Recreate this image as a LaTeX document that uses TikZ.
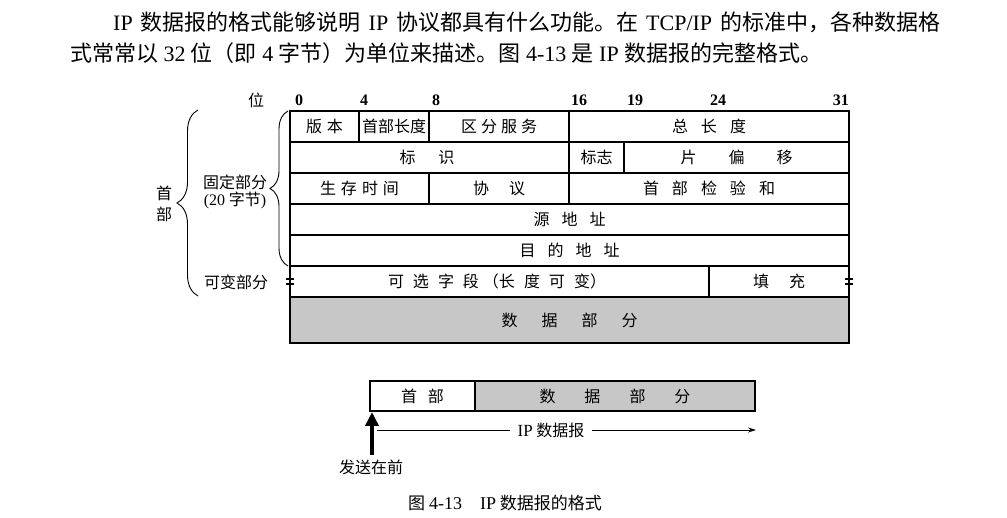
\documentclass[tikz,border=0pt]{standalone}
\usepackage{fontspec}
\setmainfont{Liberation Serif}
\newfontfamily\cjk{Noto Sans CJK SC}
\usetikzlibrary{decorations.pathreplacing,arrows.meta}
\newcommand\g[1]{\hspace{#1pt}}
\newcommand\lat[1]{{\rmfamily #1}}
\begin{document}
\begin{tikzpicture}[x=1pt,y=-1pt,
  cell/.style={font=\cjk\fontsize{16}{18}\selectfont, inner sep=0pt, anchor=center},
  bitlbl/.style={font=\bfseries\fontsize{16}{18}\selectfont, inner sep=0pt, anchor=base west},
  para/.style={font=\cjk\fontsize{22}{25}\selectfont, inner sep=0pt, anchor=west},
  tl/.style={line width=1.1pt},
  eqmark/.style={line width=1.4pt},
  bracestyle/.style={decorate, line width=0.9pt}]
\useasboundingbox (0,0) rectangle (1007,518);

% paragraph
\node[para] (p1) at (113,22) {\makebox[827pt][s]{\lat{IP} 数据报的格式能够说明 \lat{IP} 协议都具有什么功能。在 \lat{TCP/IP} 的标准中，各种数据格}};
\node[para] (p2) at (70,53) {\makebox[752pt][s]{式常常以 \lat{32} 位（即 \lat{4} 字节）为单位来描述。图 \lat{4-13} 是 \lat{IP} 数据报的完整格式。}};

% bit labels
\node[cell] (wei) at (256,100) {位};
\node[bitlbl] (b0) at (295,106) {0};
\node[bitlbl] (b4) at (360,106) {4};
\node[bitlbl] (b8) at (432,106) {8};
\node[bitlbl] (b16) at (571,106) {16};
\node[bitlbl] (b19) at (627,106) {19};
\node[bitlbl] (b24) at (710,106) {24};
\node[bitlbl, anchor=base east] (b31) at (849,106) {31};

% table
\fill[black!22] (290,297) rectangle (849,343);
\draw[tl] (290,111) rectangle (849,343);
\foreach \yy in {142,173,204,235,266,297} \draw[tl] (290,\yy) -- (849,\yy);
\draw[tl] (359,111) -- (359,142) (429,111) -- (429,142) (569,111) -- (569,142);
\draw[tl] (569,142) -- (569,173) (624,142) -- (624,173);
\draw[tl] (429,173) -- (429,204) (569,173) -- (569,204);
\draw[tl] (709,266) -- (709,297);
\draw[eqmark] (286,279) -- (294,279) (286,284) -- (294,284);
\draw[eqmark] (845,279) -- (853,279) (845,284) -- (853,284);

% cell texts
\node[cell] (ver) at (324.5,126.5) {版\g{5}本};
\node[cell] (ihl) at (394,126.5) {首部长度};
\node[cell] (ds) at (499,126.5) {区\g{4}分\g{4}服\g{4}务};
\node[cell] (tlen) at (709,126.5) {总\g{13}长\g{13}度};
\node[cell] (ident) at (427,157.5) {标\g{23}识};
\node[cell] (flag) at (596.5,157.5) {标志};
\node[cell] (frag) at (736.5,157.5) {片\g{32}偏\g{32}移};
\node[cell] (ttl) at (359.5,188.5) {生\g{5}存\g{5}时\g{5}间};
\node[cell] (proto) at (499,188.5) {协\g{20}议};
\node[cell] (csum) at (709,188.5) {首\g{13}部\g{13}检\g{13}验\g{13}和};
\node[cell] (src) at (569.5,219.5) {源\g{12}地\g{12}址};
\node[cell] (dst) at (569.5,250.5) {目\g{12}的\g{12}地\g{12}址};
\node[cell] (opt) at (497,281.5) {可\g{9}选\g{9}字\g{9}段\g{4}（长\g{9}度\g{9}可\g{9}变）};
\node[cell] (pad) at (779,281.5) {填\g{20}充};
\node[cell] (data) at (569.5,320) {数\g{24}据\g{24}部\g{24}分};

% braces and side labels
\draw[bracestyle, decoration={brace, amplitude=18pt}] (288,266) -- (288,111);
\draw[bracestyle, decoration={brace, amplitude=21pt}] (198,296) -- (198,110);
\node[cell] (shou) at (164,193) {首};
\node[cell] (bu) at (164,214) {部};
\node[cell] (guding) at (235,182) {固定部分};
\node[cell] (zijie) at (235,200) {\lat{(20} 字节\lat{)}};
\node[cell] (kebian) at (236,282) {可变部分};

% lower diagram
\fill[black!22] (475,381) rectangle (755,411);
\draw[tl] (370,381) rectangle (755,411);
\draw[tl] (475,381) -- (475,411);
\node[cell] (hdr) at (422.5,396) {首\g{11}部};
\node[cell] (dat) at (615,396) {数\g{29}据\g{29}部\g{29}分};

\coordinate (abot) at (372,455);
\coordinate (atop) at (372,412);
\draw[line width=4pt, -{Triangle[length=14pt,width=13pt]}] (abot) -- (atop);
\coordinate (ipl) at (377,430);
\coordinate (ipr) at (756,430);
\node[cell, fill=white, inner xsep=7pt, inner ysep=2pt] (iplab) at (551,430) {{\fontsize{17}{18}\selectfont\lat{IP}} 数据报};
\draw[line width=0.8pt] (ipl) -- (iplab.west);
\draw[line width=0.8pt, -{Stealth[length=8pt,width=5pt]}] (iplab.east) -- (ipr);
\node[cell] (send) at (371,467) {发送在前};

\node[font=\cjk\fontsize{17}{20}\selectfont, inner sep=0pt] (cap) at (505,503) {图\hspace{4pt}{\fontsize{18}{20}\selectfont\lat{4-13}}\hspace{18pt}{\fontsize{18}{20}\selectfont\lat{IP}} 数据报的格式};
\end{tikzpicture}
\end{document}
